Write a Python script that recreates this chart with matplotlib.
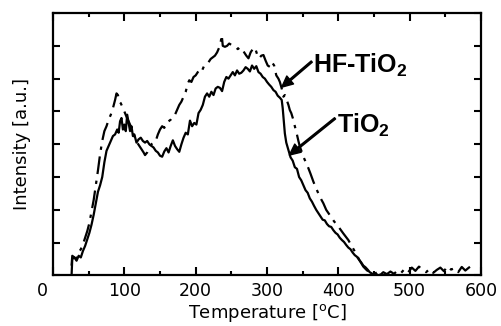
import matplotlib

matplotlib.use('Agg')
import matplotlib.pyplot as plt
from matplotlib.transforms import ScaledTranslation

plt.rcParams['font.family'] = 'DejaVu Sans'
plt.rcParams['mathtext.fontset'] = 'custom'
plt.rcParams['mathtext.rm'] = 'DejaVu Sans'
plt.rcParams['mathtext.bf'] = 'Liberation Sans:bold'

# TiO2 (linha cheia)
temp_tio2 = [26, 27, 30, 33, 36, 39, 42, 45, 48, 51, 54, 57, 60, 63, 66, 69, 72,
             75, 78, 81, 84, 87, 90, 92, 94, 96, 98, 100, 102, 104, 106, 108, 110,
             112, 114, 117, 120, 123, 126, 129, 132, 135, 138, 141, 144, 147, 150,
             153, 156, 159, 162, 165, 168, 171, 174, 177, 180, 183, 186, 189, 192,
             195, 198, 201, 204, 207, 210, 213, 216, 219, 222, 225, 228, 231, 234,
             237, 240, 243, 246, 249, 252, 255, 258, 261, 264, 267, 270, 273, 276,
             279, 282, 285, 288, 291, 294, 297, 300, 303, 306, 309, 312, 315, 318,
             320.6, 322, 323, 325, 327, 330, 333, 336, 339, 342, 345, 348, 351,
             354, 357, 360, 363, 366, 369, 372, 375, 378, 381, 384, 387, 390, 393,
             396, 399, 402, 405, 408, 411, 414, 417, 420, 423, 426, 429, 432, 435,
             438, 441, 444, 447, 450, 453, 456, 460]
int_tio2 = [0.0, 0.5, 0.55, 0.45, 0.6, 0.55, 0.75, 0.9, 1.1, 1.3, 1.55, 1.85,
            2.2, 2.55, 2.75, 3.0, 3.45, 3.8, 3.95, 4.1, 4.25, 4.3, 4.45, 4.35,
            4.7, 4.8, 4.45, 4.6, 4.4, 4.9, 4.65, 4.4, 4.55, 4.25, 4.3, 4.05,
            4.15, 4.2, 4.1, 4.05, 4.1, 4.0, 3.95, 3.9, 3.8, 3.75, 3.65, 3.62,
            3.78, 3.88, 3.75, 3.95, 4.12, 3.95, 3.85, 3.77, 4.0, 4.2, 4.35, 4.3,
            4.72, 4.55, 4.65, 4.6, 4.95, 5.05, 5.2, 5.45, 5.55, 5.45, 5.6, 5.5,
            5.7, 5.75, 5.72, 5.62, 5.9, 6.05, 6.0, 6.1, 6.2, 6.1, 6.25, 6.15,
            6.18, 6.25, 6.35, 6.3, 6.22, 6.4, 6.3, 6.38, 6.2, 6.15, 6.05, 6.0,
            5.9, 5.82, 5.75, 5.65, 5.6, 5.48, 5.42, 5.35, 5.1, 4.84, 4.33, 4.05,
            3.83, 3.6, 3.5, 3.3, 3.25, 3.0, 2.9, 2.75, 2.6, 2.52, 2.35, 2.25,
            2.12, 2.0, 1.9, 1.8, 1.7, 1.68, 1.57, 1.5, 1.48, 1.38, 1.3, 1.25,
            1.15, 1.08, 1.02, 0.93, 0.85, 0.8, 0.7, 0.62, 0.57, 0.48, 0.4, 0.3,
            0.25, 0.18, 0.1, 0.06, 0.03, 0.05, 0.0, 0.04]

# HF-TiO2 (traço-ponto)
temp_hf = [26, 27, 30, 33, 36, 39, 42, 45, 48, 51, 54, 57, 60, 63, 66, 69, 72,
           75, 78, 81, 84, 87, 89, 91, 93, 95, 97, 100, 103, 106, 109, 112, 115,
           118, 121, 124, 127, 129, 132, 135, 138, 141, 144, 147, 150, 153, 156,
           159, 162, 165, 168, 171, 174, 177, 180, 183, 186, 189, 191, 194, 197,
           200, 203, 206, 209, 212, 215, 218, 221, 224, 227, 230, 233, 235,
           236.5, 238, 241, 244, 247, 250, 253, 256, 259, 262, 265, 268, 271,
           274, 277, 280, 283, 286, 289, 292, 295, 298, 301, 304, 307, 310, 313,
           316, 318, 320.6, 323, 325, 327.6, 330, 332, 334, 337, 339, 341.6, 344,
           346, 349, 351, 355, 358, 361, 365, 368, 372, 376, 379, 383, 388, 394,
           400, 407, 414, 420, 425.7, 430, 435, 439, 442,
           448, 453, 458, 463, 468, 473, 478, 483, 488, 493, 498, 503, 508, 513,
           518, 523, 528, 533, 538, 543, 548, 553, 558, 563, 568, 573, 578, 583,
           587]
int_hf = [0.3, 0.6, 0.55, 0.5, 0.7, 0.8, 0.95, 1.15, 1.35, 1.6, 1.95, 2.3, 2.75,
          3.2, 3.7, 4.1, 4.4, 4.55, 4.75, 4.9, 5.1, 5.35, 5.55, 5.5, 5.3, 5.25,
          5.15, 5.0, 4.84, 4.7, 4.55, 4.35, 4.2, 4.05, 3.95, 3.85, 3.75, 3.67,
          3.75, 3.9, 4.0, 4.05, 4.1, 4.3, 4.45, 4.55, 4.5, 4.65, 4.7, 4.75,
          4.85, 4.9, 5.05, 5.2, 5.3, 5.45, 5.6, 5.85, 5.95, 5.9, 6.05, 6.1, 6.2,
          6.3, 6.25, 6.4, 6.45, 6.5, 6.6, 6.65, 6.7, 6.8, 6.95, 7.1, 7.33, 7.0,
          6.97, 7.0, 7.07, 7.03, 7.0, 6.97, 6.9, 6.95, 6.92, 6.8, 6.7, 6.62,
          6.8, 6.9, 6.95, 6.75, 6.62, 6.7, 6.72, 6.55, 6.4, 6.36, 6.5, 6.4,
          6.1, 6.0, 5.9, 5.7, 5.45, 5.5, 5.35, 5.2, 5.04, 4.95, 4.74, 4.55,
          4.33, 4.1, 3.93, 3.75, 3.62, 3.42, 3.27, 3.1, 2.86, 2.7, 2.5, 2.32,
          2.2, 2.0, 1.84, 1.65, 1.49, 1.28, 1.08, 0.85, 0.63, 0.45, 0.27, 0.18,
          0.12,
          0.02, 0.08, 0.0, 0.1, 0.04, 0.12, 0.05, 0.15, 0.08, 0.2, 0.1, 0.24,
          0.14, 0.27, 0.18, 0.1, 0.2, 0.08, 0.17, 0.24, 0.13, 0.28, 0.18, 0.22,
          0.1, 0.26, 0.15, 0.24, 0.3]

xticks = [0, 100, 200, 300, 400, 500, 600]

fig = plt.figure(figsize=(5.02, 3.26), dpi=100)
ax = fig.add_axes([0.1056, 0.155, 0.8526, 0.805])

ax.plot(temp_tio2, int_tio2, color='k', lw=1.6)
ax.plot(temp_hf, int_hf, color='k', lw=1.6, linestyle=(0, (8, 3, 1.5, 3)))

ax.set_xlim(0, 600)
ax.set_ylim(0, 8)
ax.set_xticks(xticks)
ax.set_xticks([50, 150, 250, 350, 450, 550], minor=True)
ax.set_yticks(range(0, 9))
ax.set_yticklabels([])
ax.tick_params(axis='x', which='major', direction='in', length=5.5, width=1.5,
               top=True, labelsize=12.5, pad=5)
ax.tick_params(axis='x', which='minor', direction='in', length=3, width=1.5, top=True)
ax.tick_params(axis='y', which='major', direction='in', length=5, width=1.5, right=True)
for s in ax.spines.values():
    s.set_linewidth(1.6)

# o rótulo "0" está deslocado para a esquerda no original
lbl0 = ax.get_xticklabels()[0]
lbl0.set_transform(lbl0.get_transform() + ScaledTranslation(-0.11, 0, fig.dpi_scale_trans))

ax.set_xlabel('Temperature [$^\\mathrm{o}$C]', fontsize=13, labelpad=1)
ax.set_ylabel('Intensity [a.u.]', fontsize=13, labelpad=12)

arrow = dict(facecolor='k', edgecolor='k', width=1.2, headwidth=7.5, headlength=8, shrink=0)
ax.annotate('', xy=(320.6, 5.74), xytext=(362.7, 6.52), arrowprops=arrow)
ax.text(365, 6.18, 'HF-TiO$_\\mathbf{2}$', fontsize=18, fontweight='bold',
        family='Liberation Sans', ha='left', va='baseline')
ax.annotate('', xy=(331.3, 3.67), xytext=(395.4, 4.79), arrowprops=arrow)
ax.text(398.6, 4.34, 'TiO$_\\mathbf{2}$', fontsize=18, fontweight='bold',
        family='Liberation Sans', ha='left', va='baseline')

fig.savefig('out.png', dpi=100)
